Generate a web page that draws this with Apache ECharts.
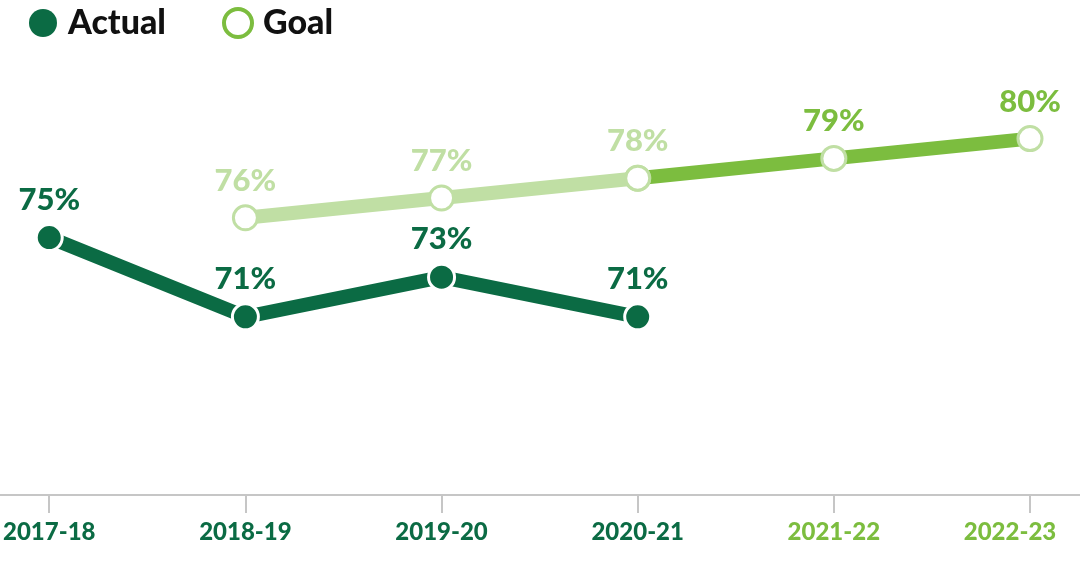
<!DOCTYPE html>
<html>
<head>
<meta charset="utf-8">
<style>
  html, body { margin: 0; padding: 0; background: #ffffff; }
  #chart { width: 1080px; height: 579px; }
</style>
<script src="https://cdn.jsdelivr.net/npm/echarts@6/dist/echarts.min.js"></script>
</head>
<body>
<div id="chart"></div>
<script>
const categories = ['2017-18', '2018-19', '2019-20', '2020-21', '2021-22', '2022-23'];
const actualValues = [75, 71, 73, 71, null, null];
const goalValues = [null, 76, 77, 78, 79, 80];
const lastActualIndex = 3;

const DARK = '#0b6b44';
const LIGHT = '#c0dfa4';
const BRIGHT = '#7cbd3f';
const FONT = 'Lato';

const goalPast = goalValues.map((v, i) => (i <= lastActualIndex ? v : null));
const goalFuture = goalValues.map((v, i) => {
  if (i < lastActualIndex) return null;
  if (i === lastActualIndex) return { value: v, label: { show: false } };
  return v;
});

const chart = echarts.init(document.getElementById('chart'));

const labelBase = {
  show: true,
  position: 'top',
  distance: 8,
  fontFamily: FONT,
  fontWeight: 900,
  fontSize: 31,
  formatter: (p) => p.value + '%'
};

chart.setOption({
  animation: false,
  legend: {
    left: 24,
    top: 1,
    icon: 'circle',
    itemWidth: 28,
    itemHeight: 28,
    itemGap: 56,
    textStyle: { fontFamily: FONT, fontWeight: 900, fontSize: 34, color: '#111111', padding: [0, 0, 0, 6] },
    data: [
      { name: 'Actual', itemStyle: { color: DARK, borderWidth: 0 } },
      { name: 'Goal', itemStyle: { color: '#ffffff', borderColor: BRIGHT, borderWidth: 4 } }
    ]
  },
  grid: [
    { left: 49, right: 50, top: 0, bottom: 84 },
    { left: 0, right: 0, top: 0, bottom: 84 }
  ],
  xAxis: [
    {
      type: 'category',
      gridIndex: 0,
      boundaryGap: false,
      data: categories.map((c, i) => ({
        value: c,
        textStyle: i === categories.length - 1
          ? { color: BRIGHT, padding: [0, 40, 0, 0] }
          : { color: i <= lastActualIndex ? DARK : BRIGHT }
      })),
      axisLine: { show: false },
      axisTick: { show: true, length: 18, alignWithLabel: true, lineStyle: { color: '#c6c6c6', width: 2 } },
      axisLabel: { margin: 25, fontFamily: FONT, fontWeight: 900, fontSize: 24, interval: 0 },
      splitLine: { show: false }
    },
    {
      type: 'value',
      gridIndex: 1,
      axisLine: { show: true, onZero: false, lineStyle: { color: '#c6c6c6', width: 2 } },
      axisTick: { show: false },
      axisLabel: { show: false },
      splitLine: { show: false }
    }
  ],
  yAxis: [
    { type: 'value', gridIndex: 0, min: 62, max: 87, show: false },
    { type: 'value', gridIndex: 1, show: false }
  ],
  series: [
    {
      name: 'Goal',
      type: 'line',
      data: goalFuture,
      z: 2,
      lineStyle: { color: BRIGHT, width: 14 },
      symbol: 'circle',
      symbolSize: 24,
      showSymbol: true,
      itemStyle: { color: '#ffffff', borderColor: LIGHT, borderWidth: 3 },
      label: Object.assign({}, labelBase, { color: BRIGHT })
    },
    {
      name: 'Goal',
      type: 'line',
      data: goalPast,
      z: 3,
      lineStyle: { color: LIGHT, width: 14 },
      symbol: 'circle',
      symbolSize: 24,
      itemStyle: { color: '#ffffff', borderColor: LIGHT, borderWidth: 3 },
      label: Object.assign({}, labelBase, { color: LIGHT })
    },
    {
      name: 'Actual',
      type: 'line',
      data: actualValues,
      z: 4,
      lineStyle: { color: DARK, width: 14 },
      symbol: 'circle',
      symbolSize: 26,
      itemStyle: { color: DARK, borderColor: '#ffffff', borderWidth: 3 },
      label: Object.assign({}, labelBase, { color: DARK })
    }
  ]
});
</script>
</body>
</html>
